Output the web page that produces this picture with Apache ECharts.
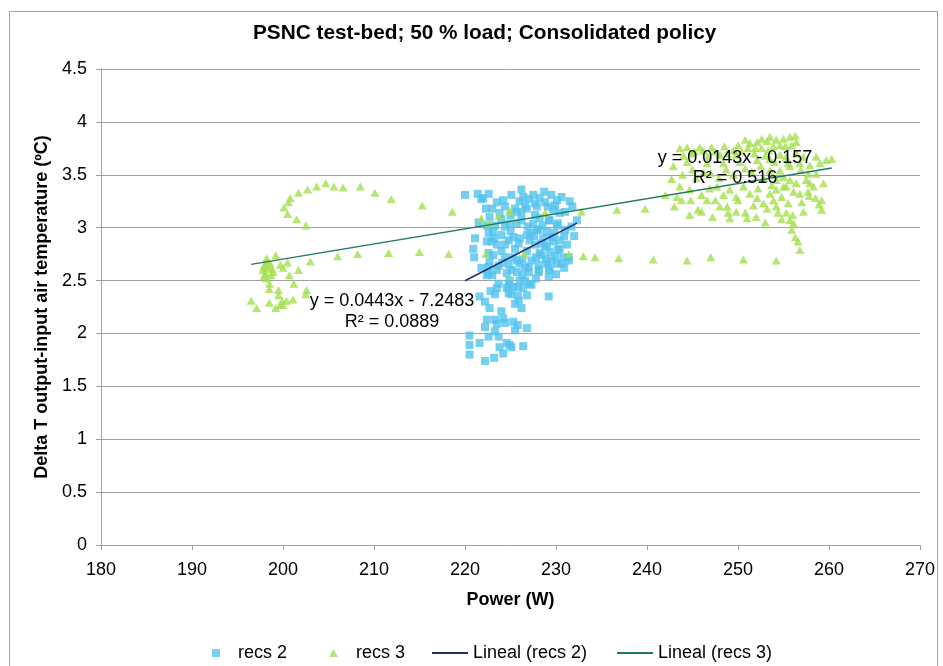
<!DOCTYPE html>
<html>
<head>
<meta charset="utf-8">
<title>PSNC test-bed; 50 % load; Consolidated policy</title>
<script src="https://cdn.jsdelivr.net/npm/echarts@6/dist/echarts.min.js"></script>
<style>
html, body { margin: 0; padding: 0; background: #fff; }
#main { width: 943px; height: 666px; }
</style>
</head>
<body>
<div id="main"></div>
<script>
// 数据：点 (Power W, Delta T ºC)
var recs2 = [
    [220.0,3.31],[221.4,3.32],[222.6,3.32],[221.8,3.27],[223.5,3.24],[224.2,3.26],[225.1,3.31],[226.2,3.36],
    [226.4,3.29],[227.5,3.31],[228.7,3.34],[229.5,3.31],[230.6,3.29],[231.5,3.25],[224.4,3.20],[225.5,3.18],
    [226.6,3.21],[227.7,3.23],[228.8,3.24],[229.9,3.21],[231.0,3.15],[226.2,3.14],[227.7,3.12],[229.2,3.07],
    [230.2,3.04],[232.3,3.07],[223.3,3.02],[224.4,3.01],[225.7,3.04],[226.9,3.01],[228.1,2.98],[231.0,2.98],
    [222.6,2.95],[224.0,2.93],[225.3,2.91],[226.8,2.93],[229.5,2.91],[230.4,2.88],[221.1,2.90],[222.9,2.87],
    [224.4,2.84],[225.9,2.85],[227.7,2.84],[228.8,2.82],[230.2,2.79],[231.4,2.72],[220.9,2.80],[222.6,2.76],
    [224.4,2.72],[225.7,2.69],[227.3,2.69],[228.4,2.74],[229.5,2.69],[230.6,2.66],[221.0,2.72],[222.6,2.63],
    [223.7,2.64],[225.1,2.60],[226.6,2.62],[228.1,2.60],[229.2,2.62],
    [222.0,3.28],[222.7,3.10],[223.8,3.14],[225.7,3.15],[226.8,3.18],[227.9,3.20],[229.7,3.17],[230.4,3.14],
    [229.3,3.07],[228.2,3.09],[227.5,3.04],[226.2,3.07],[224.9,3.04],[222.4,3.02],[223.1,2.96],[227.9,2.98],
    [229.0,2.96],[230.1,3.02],[231.7,3.01],[222.4,2.87],[223.5,2.84],[224.8,2.88],[227.1,2.88],[228.4,2.85],
    [229.7,2.87],[230.4,2.80],[229.3,2.77],[228.2,2.76],[225.3,2.72],[223.1,2.74],[222.7,2.68],[222.4,2.55],
    [223.5,2.60],[224.8,2.65],[226.0,2.66],[227.0,2.63],[228.1,2.65],[229.0,2.66],[230.1,2.66],[229.3,2.60],
    [228.1,2.58],[227.0,2.58],[225.7,2.58],[224.6,2.57],[230.8,2.72],[231.4,2.69],[229.2,2.54],[224.9,2.50],
    [226.0,2.50],[227.1,2.47],[225.3,2.44],[226.4,2.43],[223.5,2.43],[224.8,2.38],[225.8,2.36],[226.8,2.36],
    [229.2,2.35],
    [221.5,3.05],[223.0,3.18],[224.0,3.08],[225.0,2.97],[226.0,2.90],[227.2,2.95],[228.5,3.02],[229.8,2.95],
    [230.9,2.92],[221.8,2.62],[223.0,2.55],[224.0,2.78],[225.5,2.80],[226.8,2.78],[227.8,2.72],[228.9,2.70],
    [229.9,2.73],[230.9,2.62],[226.3,2.55],[227.8,2.52],[225.0,3.12],[226.0,3.25],[227.0,3.27],[228.2,3.28],
    [229.1,3.20],[230.1,3.26],[231.8,3.20],[222.3,3.18],[223.2,2.90],[224.6,2.43],[225.9,2.31],[222.8,2.40],
    [226.3,2.70],[227.6,2.92],[228.6,2.90],[229.0,2.83],[224.1,2.67],[230.0,2.56],[231.2,2.84],[232.0,2.92],
    [223.3,2.37],[224.8,2.46],[225.1,2.37],[225.5,2.28],[226.2,2.24],[225.8,2.44],[226.6,2.50],[227.3,2.46],
    [221.6,2.35],[222.2,2.30],[222.7,2.24],[224.0,2.21],[224.2,2.14],[223.3,2.13],[222.4,2.13],[222.2,2.06],
    [223.5,2.09],[224.4,2.10],[225.3,2.11],[225.8,2.08],[225.5,2.03],[226.8,2.05],[223.3,2.02],[222.6,1.97],
    [223.7,1.97],[223.8,1.87],[224.6,1.91],[224.9,1.89],[225.1,1.87],[226.4,1.88],[224.2,1.81],[223.2,1.77],
    [222.2,1.74],[220.5,1.98],[220.5,1.89],[220.5,1.80],[221.6,1.91],[222.6,2.57],[223.7,2.47]
];
var recs3 = [
    // 左边的弧
    [204.7,3.42],[203.7,3.39],[205.6,3.39],[202.7,3.36],[206.6,3.38],[208.5,3.39],[201.7,3.33],[200.8,3.28],
    [200.6,3.24],[200.1,3.19],[200.5,3.13],[201.5,3.08],[202.5,3.02],[210.1,3.33],[211.9,3.27],[215.3,3.21],
    [218.6,3.15],
    // 左下角的一团
    [199.2,2.74],[198.2,2.71],[198.0,2.65],[198.4,2.62],[197.8,2.60],[198.6,2.66],[198.1,2.57],[198.9,2.58],
    [197.9,2.54],[199.7,2.65],[200.5,2.67],[200.0,2.62],[200.7,2.55],[201.7,2.60],[201.2,2.47],[198.5,2.47],
    [198.5,2.42],[199.5,2.41],[202.6,2.41],[202.5,2.37],[199.5,2.36],[196.5,2.31],[198.5,2.29],[199.9,2.31],
    [200.4,2.31],[200.0,2.27],[201.1,2.32],[197.1,2.24],[199.2,2.24],[199.7,2.27],[203.0,2.68],[206.0,2.73],
    [208.2,2.75],[198.3,2.68],[197.9,2.63],[198.8,2.61],[198.2,2.52],[198.7,2.55],
    // 中间两行
    [211.6,2.76],[215.0,2.77],[218.2,2.75],[222.3,2.75],[226.5,2.75],[231.4,2.75],[233.0,2.73],[234.3,2.72],
    [236.9,2.71],[240.7,2.70],[244.4,2.69],[247.0,2.72],[250.6,2.70],[254.2,2.69],
    [221.8,3.09],[222.7,3.05],[223.7,3.11],[224.9,3.16],[228.8,3.14],[232.8,3.15],[236.7,3.17],[239.8,3.18],
    // 右上角的一团
    [242.9,3.58],[243.6,3.75],[244.4,3.76],[244.9,3.70],[245.8,3.76],[242.7,3.46],[242.0,3.31],[243.6,3.39],
    [243.8,3.26],[244.8,3.26],[244.7,3.12],[245.6,3.17],[246.6,3.26],[246.9,3.37],[247.5,3.26],[248.0,3.20],
    [248.8,3.20],[248.9,3.14],[249.1,3.09],[249.8,3.15],[250.0,3.26],[250.8,3.14],[251.0,3.09],[251.7,3.21],
    [252.1,3.28],[252.2,3.37],[252.8,3.23],[253.2,3.18],[253.5,3.32],[253.7,3.40],[253.9,3.26],[254.2,3.20],
    [254.4,3.14],[254.8,3.29],[255.0,3.39],[255.3,3.14],[255.5,3.23],[255.7,3.07],[255.9,2.98],[256.1,3.04],
    [256.3,2.91],[256.6,2.87],[256.8,2.79],[257.0,3.24],[257.2,3.15],[257.7,3.34],[257.9,3.42],[258.5,3.28],
    [259.2,3.26],[259.2,3.17],[259.7,3.64],[260.3,3.65],[259.0,3.61],[258.6,3.67],[257.9,3.59],[257.2,3.67],
    [250.8,3.83],[251.3,3.80],[252.1,3.81],[252.6,3.84],[253.2,3.82],[253.5,3.86],[254.2,3.83],[255.0,3.84],
    [255.7,3.86],[256.3,3.87],[256.4,3.81],[255.9,3.78],[255.2,3.77],[254.6,3.78],[253.9,3.77],[253.3,3.73],
    [252.6,3.75],[251.9,3.75],[251.1,3.75],[250.4,3.72],[249.8,3.69],[249.5,3.73],[248.8,3.70],[248.0,3.69],
    [247.5,3.72],[246.7,3.67],[246.2,3.73],
    [244.4,3.62],[246.6,3.61],[248.4,3.61],[250.2,3.62],[252.1,3.64],[253.5,3.65],[254.6,3.69],[255.3,3.67],
    [256.4,3.70],[256.8,3.61],[255.7,3.58],[254.6,3.54],[253.5,3.54],[255.0,3.48],[255.7,3.45],[256.4,3.42],
    [254.2,3.45],[255.3,3.39],[256.1,3.34],[254.2,3.36],[256.8,3.32],[245.4,3.47],[244.7,3.36],[247.7,3.39],
    [249.1,3.36],[250.6,3.39],[251.3,3.32],[249.8,3.29],[248.4,3.31],[246.0,3.31],[258.6,3.51],[259.4,3.42],
    [258.3,3.39],[257.5,3.45],[257.7,3.51],[243.3,3.29],[245.0,3.55],[247.0,3.52],[249.5,3.50],[251.5,3.53],
    [247.9,3.47],[252.8,3.47],
    [244.0,3.68],[245.2,3.72],[247.1,3.76],[248.5,3.77],[250.0,3.78],[251.8,3.70],[253.0,3.68],[254.0,3.62],
    [255.5,3.61],[256.9,3.55],[252.5,3.58],[250.8,3.56],[248.7,3.55],[246.2,3.52],[243.9,3.50],[257.8,3.30],
    [258.9,3.22],[256.0,3.12],[254.8,3.08],[253.0,3.05],[252.0,3.10],[247.2,3.10],[246.0,3.15],[243.0,3.20]
];
// 趋势线两端
var lineal2 = [[220.0, 2.498], [232.3, 3.043]];
var lineal3 = [[196.5, 2.653], [260.3, 3.565]];
var eq2 = ['y = 0.0443x - 7.2483', 'R² = 0.0889'];
var eq3 = ['y = 0.0143x - 0.157', 'R² = 0.516'];
var seriesNames = ['recs 2', 'recs 3', 'Lineal (recs 2)', 'Lineal (recs 3)'];

var FONT = "'Liberation Sans', Arial, sans-serif";
var chart = echarts.init(document.getElementById('main'));

// 每个图例单独放，方便对齐
function legendAt(name, icon, left, w, h, textPad) {
    return {
        data: [{ name: name, icon: icon }],
        left: left,
        top: 644,
        itemWidth: w,
        itemHeight: h,
        padding: 0,
        textStyle: { fontFamily: FONT, fontSize: 18, color: '#000', padding: [0, 0, 0, textPad] }
    };
}

function eqText(x, y, str) {
    return {
        type: 'text',
        x: x,
        y: y,
        z: 100,
        style: {
            text: str,
            fontFamily: FONT,
            fontSize: 18,
            fill: '#000',
            align: 'center',
            verticalAlign: 'middle'
        }
    };
}

var option = {
    animation: false,
    title: {
        text: 'PSNC test-bed; 50 % load; Consolidated policy',
        left: 253,
        top: 23,
        padding: 0,
        textStyle: { fontFamily: FONT, fontSize: 20.8, fontWeight: 'bold', color: '#000' }
    },
    legend: [
        legendAt(seriesNames[0], 'rect', 212, 8, 8, 13),
        legendAt(seriesNames[1], 'triangle', 329, 9, 8, 13),
        legendAt(seriesNames[2], 'rect', 432, 36, 2, 0),
        legendAt(seriesNames[3], 'rect', 617, 36, 2, 0)
    ],
    grid: { left: 101, right: 23, top: 69, bottom: 121, outerBoundsMode: 'none' },
    xAxis: {
        type: 'value',
        min: 180,
        max: 270,
        interval: 10,
        name: 'Power (W)',
        nameLocation: 'middle',
        nameGap: 46,
        nameTextStyle: { fontFamily: FONT, fontSize: 18, fontWeight: 'bold', color: '#000' },
        axisLine: { onZero: false, lineStyle: { color: '#a0a0a0' } },
        axisTick: { show: true, length: 5, lineStyle: { color: '#a0a0a0' } },
        axisLabel: { margin: 16, fontFamily: FONT, fontSize: 18, color: '#000' },
        splitLine: { show: false }
    },
    yAxis: {
        type: 'value',
        min: 0,
        max: 4.5,
        interval: 0.5,
        name: 'Delta T output-input air temperature (ºC)',
        nameLocation: 'middle',
        nameGap: 44,
        nameTextStyle: { fontFamily: FONT, fontSize: 18, fontWeight: 'bold', color: '#000' },
        axisLine: { show: true, lineStyle: { color: '#a0a0a0' } },
        axisTick: { show: true, length: 5, lineStyle: { color: '#a0a0a0' } },
        axisLabel: { margin: 14, fontFamily: FONT, fontSize: 18, color: '#000' },
        splitLine: { show: true, lineStyle: { color: '#a0a0a0', width: 1 } }
    },
    graphic: [
        {
            type: 'rect',
            z: -10,
            shape: { x: 9.5, y: 11.5, width: 928, height: 700 },
            style: { fill: 'none', stroke: '#a0a0a0', lineWidth: 1 }
        },
        eqText(392, 301, eq2[0]),
        eqText(392, 322, eq2[1]),
        eqText(735, 158, eq3[0]),
        eqText(735, 178, eq3[1])
    ],
    series: [{
        name: seriesNames[0],
        type: 'scatter',
        symbol: 'rect',
        symbolSize: 8,
        itemStyle: { color: '#52c3ee' },
        data: recs2
    }, {
        name: seriesNames[1],
        type: 'scatter',
        symbol: 'triangle',
        symbolSize: [9, 8],
        itemStyle: { color: '#a3e04b' },
        data: recs3
    }, {
        name: seriesNames[2],
        type: 'line',
        symbol: 'none',
        lineStyle: { color: '#1c2d6e', width: 1.5 },
        itemStyle: { color: '#1c2d6e' },
        data: lineal2
    }, {
        name: seriesNames[3],
        type: 'line',
        symbol: 'none',
        lineStyle: { color: '#217a60', width: 1.5 },
        itemStyle: { color: '#217a60' },
        data: lineal3
    }]
};

chart.setOption(option);
</script>
</body>
</html>
